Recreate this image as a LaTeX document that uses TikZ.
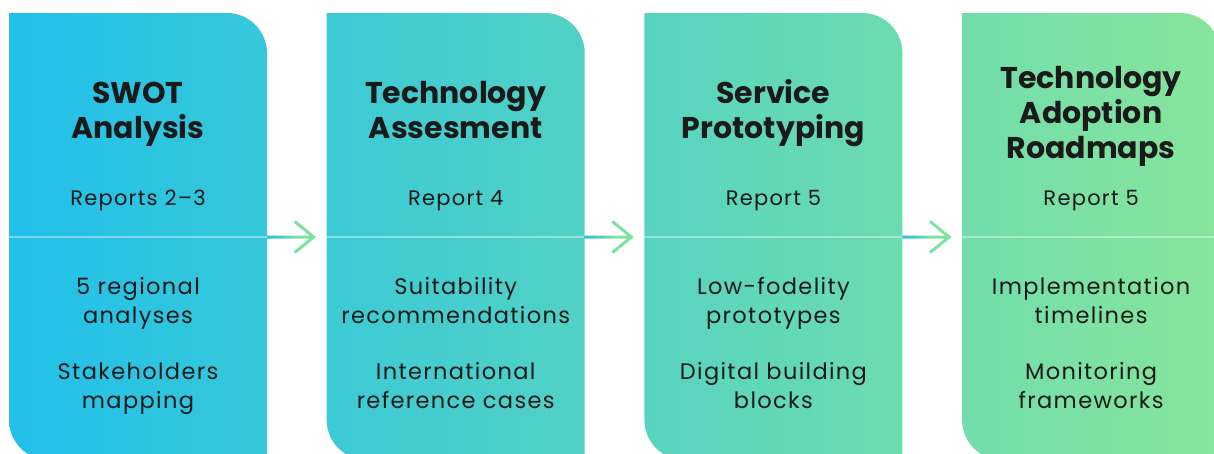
\documentclass[tikz,border=0pt]{standalone}
\usepackage{fontspec}
\setmainfont{Poppins}
\usetikzlibrary{calc}

\definecolor{ink}{HTML}{1A1A1A}
\definecolor{cardLeft}{HTML}{21C0EA}
\definecolor{cardRight}{HTML}{87E59B}
\definecolor{arrBlue}{HTML}{29C0E6}
\definecolor{arrGreen}{HTML}{7DE3A0}

% one continuous gradient running across all four cards
\pgfdeclarehorizontalshading{cardgrad}{100bp}{color(0bp)=(cardLeft); color(25bp)=(cardLeft); color(75bp)=(cardRight); color(100bp)=(cardRight)}
% connector gradient: blue at the tail, green from the middle on
\pgfdeclarehorizontalshading{arrowgrad}{100bp}{color(0bp)=(arrBlue); color(27bp)=(arrBlue); color(56bp)=(arrGreen); color(100bp)=(arrGreen)}

% filled outline of a 3pt-thick arrow with an open chevron head
\newcommand\gradarrow[2]{%
  \shade[shading=arrowgrad]
    ([yshift=1.5pt]#1) -- ([xshift=-4.2pt,yshift=1.5pt]#2)
    -- ([xshift=-19.95pt,yshift=14.34pt]#2) -- ([xshift=-18.05pt,yshift=16.66pt]#2)
    -- ([xshift=2.37pt]#2)
    -- ([xshift=-18.05pt,yshift=-16.66pt]#2) -- ([xshift=-19.95pt,yshift=-14.34pt]#2)
    -- ([xshift=-4.2pt,yshift=-1.5pt]#2) -- ([yshift=-1.5pt]#1) -- cycle;}

\begin{document}
\begin{tikzpicture}[x=1pt,y=-1pt,
  cardframe/.style={rectangle,inner sep=0pt,minimum width=258pt,minimum height=447pt},
  divider/.style={draw=white,draw opacity=0.38,line width=2.6pt},
  titletext/.style={text=ink,align=center,inner sep=0pt,anchor=base,
    font=\fontsize{30}{35}\selectfont\bfseries},
  reporttext/.style={text=ink,align=center,inner sep=0pt,anchor=base,
    font=\fontsize{21}{28}\selectfont\addfontfeatures{LetterSpace=6}},
  itemtext/.style={text=ink,align=center,inner sep=0pt,anchor=base,
    font=\fontsize{22.5}{28.5}\selectfont\addfontfeatures{LetterSpace=6}}]

\useasboundingbox (0,0) rectangle (1214,453);

% card frames (invisible), used as anchors for text and connectors
\foreach \i/\L in {1/9,2/326.7,3/644.4,4/962.1}{
  \node[cardframe] (card\i) at (\L+129,236.5) {};
  \coordinate (divL\i) at (\L,237);
  \coordinate (divR\i) at (\L+258,237);
}

% card bodies: square top-left, rounded top-right and bottom-left
\begin{scope}
  \clip (0,0) rectangle (1214,453);
  \shade[shading=cardgrad]
    \foreach \L in {9,326.7,644.4,962.1}{
      (\L,13) -- (\L+218,13) .. controls (\L+240,13) and (\L+258,31) .. (\L+258,53)
      -- (\L+258,460) -- (\L+40,460) .. controls (\L+18,460) and (\L,442) .. (\L,420)
      -- cycle
    };
  \foreach \i in {1,...,4}{
    \draw[divider] (divL\i) -- (divR\i);
  }
\end{scope}

% connectors between cards
\foreach \i/\j in {1/2,2/3,3/4}{
  \coordinate (tip\i) at ($(divL\j)+(-13,0)$);
  \gradarrow{divR\i}{tip\i}
}

% text nodes are anchored at the baseline of their last line

% card 1
\node[titletext] (t1) at (card1 |- 0,138) {SWOT\\Analysis};
\node[reporttext] (r1) at (card1 |- 0,205) {Reports 2–3};
\node[itemtext] (a1) at (card1 |- 0,323) {5 regional\\analyses};
\node[itemtext] (b1) at (card1 |- 0,408) {Stakeholders\\mapping};

% card 2
\node[titletext] (t2) at (card2 |- 0,138) {Technology\\Assesment};
\node[reporttext] (r2) at (card2 |- 0,205) {Report 4};
\node[itemtext] (a2) at (card2 |- 0,323) {Suitability\\recommendations};
\node[itemtext] (b2) at (card2 |- 0,408) {International\\reference cases};

% card 3
\node[titletext] (t3) at (card3 |- 0,138) {Service\\Prototyping};
\node[reporttext] (r3) at (card3 |- 0,205) {Report 5};
\node[itemtext] (a3) at (card3 |- 0,323) {Low-fodelity\\prototypes};
\node[itemtext] (b3) at (card3 |- 0,408) {Digital building\\blocks};

% card 4
\node[titletext] (t4) at (card4 |- 0,158) {Technology\\Adoption\\Roadmaps};
\node[reporttext] (r4) at (card4 |- 0,205) {Report 5};
\node[itemtext] (a4) at (card4 |- 0,323) {Implementation\\timelines};
\node[itemtext] (b4) at (card4 |- 0,408) {Monitoring\\frameworks};

\end{tikzpicture}
\end{document}
